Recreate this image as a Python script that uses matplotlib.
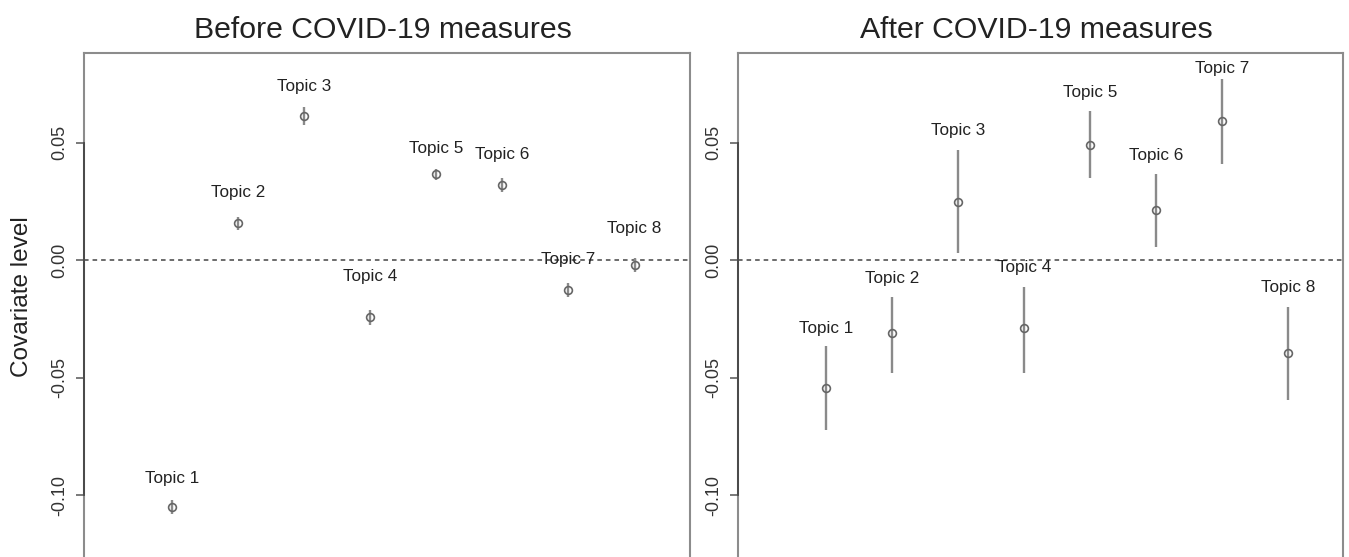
import matplotlib
matplotlib.use("Agg")
import matplotlib.pyplot as plt
import numpy as np

plt.rcParams['font.family'] = ['Liberation Sans', 'DejaVu Sans']

# ---- data ----
topics = ["Topic 1", "Topic 2", "Topic 3", "Topic 4", "Topic 5", "Topic 6", "Topic 7", "Topic 8"]

before_est = [-0.1051, 0.0156, 0.0612, -0.0244, 0.0364, 0.0319, -0.0127, -0.0023]
before_lo = [-0.1081, 0.0128, 0.0575, -0.0276, 0.0339, 0.0291, -0.0157, -0.0053]
before_hi = [-0.1021, 0.0184, 0.0649, -0.0212, 0.0389, 0.0347, -0.0097, 0.0007]

after_est = [-0.0543, -0.0312, 0.0245, -0.0289, 0.0490, 0.0212, 0.0591, -0.0394]
after_lo = [-0.0725, -0.0479, 0.0031, -0.0479, 0.0351, 0.0054, 0.0407, -0.0595]
after_hi = [-0.0368, -0.0156, 0.0470, -0.0113, 0.0633, 0.0365, 0.0772, -0.0201]

titles = ["Before COVID-19 measures", "After COVID-19 measures"]
yticks = [-0.10, -0.05, 0.00, 0.05]
ytick_labels = ["-0.10", "-0.05", "0.00", "0.05"]
ylabel = "Covariate level"

# ---- layout (label offsets above CI upper end, in pixels) ----
before_label_off = [21, 24, 20.5, 33, 20.5, 23.5, 23, 29.5]
after_label_off = [17.5, 18.5, 19, 19.5, 18.5, 18.5, 10.5, 20]

W, H = 1349, 557
fig = plt.figure(figsize=(W / 100, H / 100), dpi=100)

ytop = 0.0883
ybot = -0.14
px_per_unit = 2350.0
top_px = 52.5
bot_px = top_px + (ytop - ybot) * px_per_unit

panels = [
    (84, 690, before_est, before_lo, before_hi, before_label_off, titles[0]),
    (738.3, 1343.3, after_est, after_lo, after_hi, after_label_off, titles[1]),
]

frame_col = "#8c8c8c"
for (x0, x1, est, lo, hi, offs, title) in panels:
    ax = fig.add_axes([x0 / W, 1 - bot_px / H, (x1 - x0) / W, (bot_px - top_px) / H])
    xs = np.arange(1, len(topics) + 1)
    ax.set_xlim(-0.335, 8.84)
    ax.set_ylim(ybot, ytop)
    ax.axhline(0, color="#444444", lw=1.1, dashes=(3, 2.6), zorder=1)
    ax.vlines(xs, lo, hi, color="#8a8a8a", lw=1.7, zorder=2)
    ax.plot(xs, est, linestyle="none", marker="o", ms=5.6, mfc="none",
            mec="#666666", mew=1.2, zorder=3)
    for x, h, t, off in zip(xs, hi, topics, offs):
        ax.annotate(t, xy=(x, h), xytext=(0, off * 0.72), textcoords="offset points",
                    ha="center", va="center", fontsize=12.3, color="#222222",
                    annotation_clip=False)
    for s in ax.spines.values():
        s.set_color(frame_col)
        s.set_linewidth(1.5)
    ax.set_xticks([])
    ax.set_yticks(yticks)
    ax.set_yticklabels(ytick_labels, rotation=90, va="center", fontsize=13, color="#333333")
    ax.tick_params(axis="y", length=6, width=1.1, color="#555555", pad=5.5)
    ax.plot([-0.335, -0.335], [-0.10, 0.05], color="#444444", lw=1.3,
            clip_on=False, zorder=4)
    fig.text(((x0 + x1) / 2 - 4) / W, 1 - 38 / H, title, ha="center", va="baseline",
             fontsize=21.8, color="#222222")

fig.text(22 / W, 1 - 297 / H, ylabel, rotation=90, ha="center", va="center",
         fontsize=17.6, color="#222222")

fig.savefig("out.png", dpi=100)
